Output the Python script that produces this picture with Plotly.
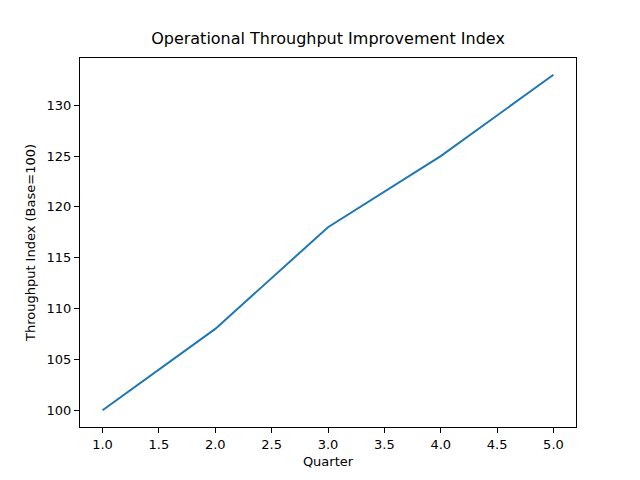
import plotly.graph_objects as go

# Data
quarters = [1, 2, 3, 4, 5]
throughput_index = [100, 108, 118, 125, 133]

x_ticks = [1.0, 1.5, 2.0, 2.5, 3.0, 3.5, 4.0, 4.5, 5.0]
y_ticks = [100, 105, 110, 115, 120, 125, 130]

fig = go.Figure()

fig.add_trace(go.Scatter(
    x=quarters,
    y=throughput_index,
    mode='lines',
    line=dict(color='#1f77b4', width=2),
    showlegend=False
))

axis_style = dict(
    showgrid=False,
    zeroline=False,
    showline=True,
    linecolor='black',
    linewidth=1,
    mirror=True,
    ticks='outside',
    ticklen=5,
    tickcolor='black',
    tickfont=dict(size=13, color='black'),
)

# page body adds an 8px offset, so margins are shifted to compensate
fig.update_layout(
    width=640,
    height=480,
    paper_bgcolor='white',
    plot_bgcolor='white',
    font=dict(family='DejaVu Sans', color='black'),
    title=dict(text='Operational Throughput Improvement Index', x=(328 - 8) / 640, xanchor='center',
               y=1 - 36 / 480, yanchor='bottom', font=dict(size=16)),
    margin=dict(l=72, r=72, t=50, b=61),
    xaxis=dict(axis_style, range=[0.8, 5.2], tickvals=x_ticks,
               ticktext=[f'{v:.1f}' for v in x_ticks],
               title=dict(text='Quarter', font=dict(size=13), standoff=6)),
    yaxis=dict(axis_style, range=[98.35, 134.65], tickvals=y_ticks,
               title=dict(text='Throughput Index (Base=100)', font=dict(size=13), standoff=8)),
)

fig.write_html("out.html")
